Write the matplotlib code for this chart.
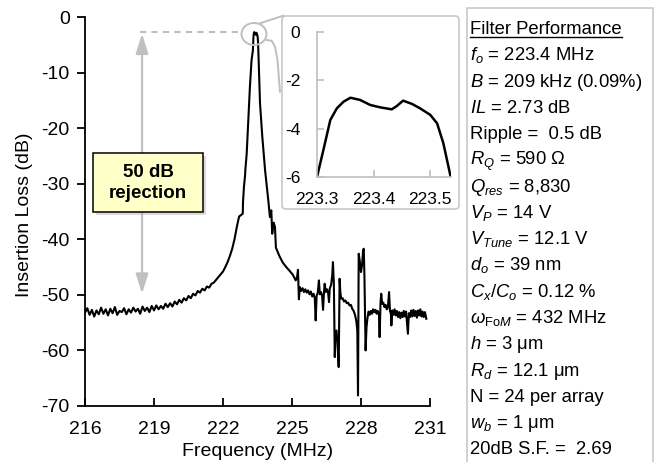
import matplotlib
matplotlib.use("Agg")
import matplotlib.pyplot as plt
from matplotlib.patches import FancyBboxPatch, Ellipse, Rectangle, FancyArrowPatch, ArrowStyle
from matplotlib.lines import Line2D
from matplotlib.transforms import IdentityTransform

plt.rcParams['font.family'] = ['Liberation Sans', 'DejaVu Sans']
plt.rcParams['mathtext.fontset'] = 'custom'
plt.rcParams['mathtext.rm'] = 'Liberation Sans'
plt.rcParams['mathtext.it'] = 'Liberation Sans:italic'
plt.rcParams['mathtext.bf'] = 'Liberation Sans:bold'
plt.rcParams['axes.unicode_minus'] = False

# ---------------- data ----------------
freq_floor = [216.0, 216.1, 216.2, 216.3, 216.4, 216.5, 216.6, 216.7, 216.8, 216.9,
              217.0, 217.1, 217.2, 217.3, 217.4, 217.5, 217.6, 217.7, 217.8, 217.9,
              218.0, 218.1, 218.2, 218.3, 218.4, 218.5, 218.6, 218.7, 218.8, 218.9,
              219.0, 219.1, 219.2, 219.3, 219.4, 219.5, 219.6, 219.7, 219.8, 219.9,
              220.0, 220.1, 220.2, 220.3, 220.4, 220.5, 220.6, 220.7, 220.8, 220.9,
              221.0, 221.1, 221.2, 221.3, 221.4, 221.5, 221.6, 221.7, 221.8, 221.9]
loss_floor = [-53.2, -52.4, -53.6, -52.7, -53.9, -52.8, -53.5, -52.3, -53.4, -52.6,
              -53.7, -52.5, -53.3, -52.2, -53.6, -52.9, -53.1, -52.4, -53.5, -52.6,
              -53.2, -52.3, -53.0, -52.5, -53.4, -52.1, -52.9, -52.3, -53.1, -52.0,
              -52.8, -51.9, -52.6, -52.0, -52.5, -51.6, -52.2, -51.5, -52.1, -51.2,
              -51.7, -50.9, -51.4, -50.6, -51.0, -50.2, -50.6, -49.8, -50.1, -49.3,
              -49.6, -48.9, -49.2, -48.5, -48.7, -48.0, -47.8, -47.3, -46.8, -46.3]

freq_peak = [222.0, 222.1, 222.2, 222.3, 222.4, 222.5, 222.6, 222.7, 222.8, 222.86,
             222.87, 222.91, 222.96, 222.97, 223.03, 223.1, 223.17, 223.24, 223.3,
             223.312, 223.3235, 223.335, 223.347, 223.359, 223.376, 223.394, 223.412,
             223.432, 223.441, 223.452, 223.468, 223.482, 223.5, 223.512, 223.523,
             223.536, 223.57, 223.61, 223.71, 223.83, 223.97, 224.04, 224.1, 224.14,
             224.2, 224.26, 224.3, 224.45, 224.6, 224.75, 224.9, 225.04, 225.16,
             225.22, 225.26]
loss_peak = [-45.8, -45.0, -44.1, -43.0, -41.7, -40.0, -37.8, -35.9, -35.6, -35.4,
             -33.3, -30.6, -28.5, -27.6, -24.6, -18.6, -12.6, -7.8, -6.0,
             -4.81, -3.64, -3.16, -2.88, -2.72, -2.81, -3.02, -3.12,
             -3.2, -3.06, -2.84, -2.98, -3.16, -3.43, -3.78, -4.6,
             -6.0, -10.5, -15.6, -21.6, -27.6, -33.0, -36.0, -34.8, -39.0,
             -37.0, -37.8, -41.5, -43.0, -44.2, -45.0, -45.7, -46.4, -47.4,
             -46.8, -45.5]

freq_spur = [225.30, 225.34, 225.40, 225.46, 225.52, 225.58, 225.64, 225.70, 225.76, 225.82,
             225.88, 225.94, 225.99, 226.03, 226.07, 226.12, 226.17, 226.21, 226.26, 226.31,
             226.35, 226.39, 226.42, 226.47, 226.52, 226.57, 226.61, 226.64, 226.70, 226.75,
             226.78, 226.82, 226.86, 226.89, 226.93, 226.97, 227.03, 227.07, 227.10, 227.14,
             227.20, 227.26, 227.32, 227.38, 227.44, 227.50, 227.56, 227.62, 227.68, 227.74,
             227.80, 227.84, 227.87, 227.90, 227.95, 228.00, 228.05, 228.09, 228.12, 228.15,
             228.20, 228.24, 228.28, 228.33, 228.38, 228.43, 228.48, 228.53, 228.58, 228.63,
             228.68, 228.73, 228.78, 228.81, 228.85, 228.88, 228.92, 228.97, 229.02, 229.07,
             229.12, 229.17, 229.22, 229.26, 229.30, 229.32, 229.36, 229.41, 229.46, 229.51,
             229.56, 229.61, 229.66, 229.71, 229.76, 229.81, 229.86, 229.91, 229.96, 230.04,
             230.08, 230.13, 230.18, 230.23, 230.28, 230.33, 230.38, 230.43, 230.48, 230.53,
             230.58, 230.63, 230.68, 230.73, 230.78, 230.84]
loss_spur = [-50.8, -48.6, -49.3, -48.8, -49.5, -49.0, -49.6, -49.2, -49.9, -49.4,
             -50.3, -49.8, -50.6, -54.6, -50.2, -49.6, -47.4, -49.9, -49.5, -50.2,
             -52.7, -49.6, -48.0, -49.5, -49.0, -49.6, -51.3, -48.9, -48.2, -46.5,
             -44.1, -48.0, -61.2, -57.0, -56.4, -58.0, -63.0, -47.1, -49.5, -50.7,
             -50.6, -51.2, -51.0, -51.5, -51.4, -51.9, -51.8, -52.5, -52.9, -53.6,
             -54.8, -56.5, -68.1, -42.6, -44.0, -45.9, -44.5, -42.0, -41.7, -46.8,
             -60.0, -55.8, -54.2, -53.0, -53.6, -52.9, -53.4, -52.6, -53.1, -52.7,
             -53.4, -52.9, -53.6, -57.6, -51.3, -49.8, -51.6, -51.4, -52.2, -51.8,
             -52.6, -52.2, -49.5, -52.9, -53.4, -55.5, -52.8, -53.6, -52.6, -53.7,
             -52.9, -54.0, -53.1, -54.2, -53.2, -54.0, -52.9, -53.9, -53.0, -57.0,
             -53.3, -54.0, -52.8, -53.9, -52.7, -53.8, -52.9, -54.1, -52.8, -53.7,
             -52.6, -53.9, -53.0, -54.0, -53.1, -54.3]

freq = freq_floor + freq_peak + freq_spur
loss = loss_floor + loss_peak + loss_spur

x_ticks = [216, 219, 222, 225, 228, 231]
y_ticks = [0, -10, -20, -30, -40, -50, -60, -70]
inset_x_ticks = [223.3, 223.4, 223.5]
inset_y_ticks = [0, -2, -4, -6]

perf_lines = [
    r"$f_o$ = 223.4 MHz",
    r"$B$ = 209 kHz (0.09%)",
    r"$IL$ = 2.73 dB",
    "Ripple =  0.5 dB",
    r"$R_Q$ = 590 $\Omega$",
    r"$Q_{res}$ = 8,830",
    r"$V_P$ = 14 V",
    r"$V_{Tune}$ = 12.1 V",
    r"$d_o$ = 39 nm",
    r"$C_x$/$C_o$ = 0.12 %",
    r"$\omega_{\mathrm{Fo}M}$ = 432 MHz",
    r"$h$ = 3 $\mathrm{\mu}$m",
    r"$R_d$ = 12.1 $\mathrm{\mu}$m",
    "N = 24 per array",
    r"$w_b$ = 1 $\mathrm{\mu}$m",
    "20dB S.F. =  2.69",
]

W, H = 661, 462
GRAY = '#bfbfbf'

fig = plt.figure(figsize=(W / 100, H / 100), dpi=100)

def fx(px):
    return px / W

def fy(py):
    return 1 - py / H

it = IdentityTransform()

# backgrounds (drawn below axes)
fig.patches.append(Rectangle((466.7, -10), 652.7 - 466.7, H - 8.3 + 10, transform=it,
                             facecolor='white', edgecolor='#c8c8c8', lw=1.2, zorder=-2))
frame = FancyBboxPatch((282, H - 209), 177, 193, boxstyle='round,pad=0,rounding_size=4',
                       transform=it, facecolor='white', edgecolor='#c8c8c8', lw=1.2, zorder=-1)
fig.patches.append(frame)

# ---------------- main axes ----------------
ax = fig.add_axes([fx(85), fy(406), (430 - 85) / W, (406 - 17) / H])
ax.plot(freq, loss, color='black', lw=1.5, zorder=3)
ax.set_xlim(216, 231)
ax.set_ylim(-70, 0)
ax.set_xticks(x_ticks)
ax.set_yticks(y_ticks)
for s in ['top', 'right']:
    ax.spines[s].set_visible(False)
for s in ['left', 'bottom']:
    ax.spines[s].set_linewidth(1.3)
ax.tick_params(axis='x', direction='in', length=6, width=1.3, pad=10.5, labelsize=14)
ax.tick_params(axis='y', direction='out', length=6, width=1.3, pad=5, labelsize=14)
ax.patch.set_alpha(0)

fig.text(fx(25), fy(215), 'Insertion Loss (dB)', rotation=90, ha='center', va='center', fontsize=14)
fig.text(fx(258), fy(451), 'Frequency (MHz)', ha='center', va='center', fontsize=14)

# dashed reference line and rejection arrow
ax.plot([218.38, 222.8], [-2.75, -2.75], color=GRAY, lw=1.5, ls=(0, (3, 2.5)), zorder=2)
arr = FancyArrowPatch((218.48, -3.0), (218.48, -49.8),
                      arrowstyle=ArrowStyle('<|-|>', head_length=12, head_width=3.8),
                      mutation_scale=1, color='#c0c0c0', lw=1.6, shrinkA=0, shrinkB=0, zorder=2)
ax.add_patch(arr)

# yellow annotation box with shadow
shadow = Rectangle((96, H - 215), 110, 59, transform=it, facecolor='#999999', alpha=0.35,
                   edgecolor='none', zorder=4)
fig.patches.append(shadow)
ybox = Rectangle((93, H - 212), 110, 59, transform=it, facecolor='#ffffc8',
                 edgecolor='black', lw=1.1, zorder=5)
fig.patches.append(ybox)
fig.text(fx(148), fy(183), '50 dB\nrejection', ha='center', va='center', fontsize=13.5,
         fontweight='bold', linespacing=1.3, zorder=6)

# ellipse around the peak and connectors to inset
ell = Ellipse((254, H - 34), 25, 22, transform=it, facecolor='none', edgecolor=GRAY, lw=1.4, zorder=4)
fig.patches.append(ell)
fig.lines.append(Line2D([260, 283.3], [H - 23.3, H - 15.7], transform=it, color=GRAY, lw=1.4, zorder=4))
fig.lines.append(Line2D([266.5, 271.7, 275, 277.5, 280], [H - 40, H - 40.7, H - 46.7, H - 60, H - 91.7],
                        transform=it, color=GRAY, lw=1.4, zorder=4))

# ---------------- inset ----------------
axin = fig.add_axes([fx(317), fy(177), (450.7 - 317) / W, (177 - 32) / H])
axin.plot(freq, loss, color='black', lw=1.8)
axin.set_xlim(223.3, 223.536)
axin.set_ylim(-6, 0)
axin.set_xticks(inset_x_ticks)
axin.set_xticklabels(['223.3', '223.4', '223.5'])
axin.set_yticks(inset_y_ticks)
axin.set_yticklabels(['0', '-2', '-4', '-6'])
for s in ['top', 'right']:
    axin.spines[s].set_visible(False)
for s in ['left', 'bottom']:
    axin.spines[s].set_color(GRAY)
    axin.spines[s].set_linewidth(1.2)
axin.tick_params(axis='x', direction='in', length=5, width=1.2, color=GRAY, pad=11, labelsize=12.5)
axin.tick_params(axis='y', direction='in', length=5, width=1.2, color=GRAY, pad=12, labelsize=12.5)
axin.patch.set_alpha(0)

# ---------------- performance text ----------------
tx = fx(470)
hdr = fig.text(tx, fy(34), 'Filter Performance', ha='left', va='baseline', fontsize=13.3)
fig.canvas.draw()
bb = hdr.get_window_extent()
fig.lines.append(Line2D([bb.x0, bb.x1], [H - 36.7, H - 36.7], transform=it, color='black', lw=1.0))
for i, t in enumerate(perf_lines):
    fig.text(tx, fy(34 + (i + 1) * 26.27), t, ha='left', va='baseline', fontsize=13.3)

fig.savefig('out.png', dpi=100)
